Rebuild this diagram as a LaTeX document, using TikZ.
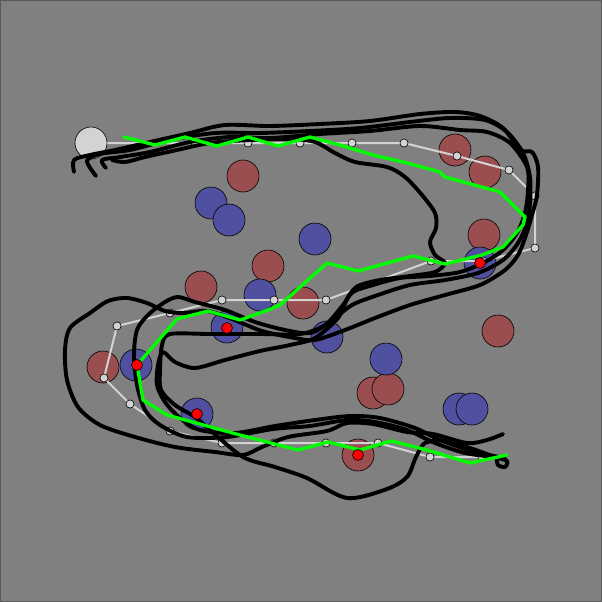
\documentclass[tikz,border=0pt]{standalone}
\definecolor{bg}{HTML}{808080}
\definecolor{obsred}{HTML}{9A4E50}
\definecolor{obsblue}{HTML}{5050A0}
\definecolor{wpgray}{HTML}{D3D3D3}
\definecolor{grn}{HTML}{00FF00}
\tikzset{
  obs/.style={circle,minimum size=32pt,inner sep=0pt,draw=black,line width=0.6pt},
  redobs/.style={obs,fill=obsred},
  blueobs/.style={obs,fill=obsblue},
  startc/.style={obs,fill=wpgray},
  wpt/.style={circle,minimum size=8pt,inner sep=0pt,fill=wpgray,draw=black,line width=0.5pt},
  wline/.style={draw=wpgray,line width=2pt},
  traj/.style={draw=black,line width=3.9pt,line cap=round,line join=round},
  gpath/.style={draw=grn,line width=3.3pt,line join=round,line cap=round},
  hit/.style={circle,minimum size=11pt,inner sep=0pt,fill=red,draw=black,line width=0.6pt}
}
\begin{document}
\begin{tikzpicture}[x=1pt,y=-1pt]
\useasboundingbox (0,0) rectangle (602,602);
\fill[bg] (0,0) rectangle (602,602);
\draw[black!65,line width=1pt] (0.5,0.5) rectangle (601.5,601.5);
% obstacles
\node[redobs] (r1) at (243,176) {};
\node[redobs] (r2) at (455,150) {};
\node[redobs] (r3) at (485,172) {};
\node[redobs] (r4) at (484,235) {};
\node[redobs] (r5) at (498,331) {};
\node[redobs] (r6) at (268,266) {};
\node[redobs] (r7) at (201,287) {};
\node[redobs] (r8) at (303,303) {};
\node[redobs] (r9) at (103,367) {};
\node[redobs] (r10) at (358,455) {};
\node[redobs] (r11) at (373,393) {};
\node[redobs] (r12) at (388,389) {};
\node[blueobs] (b1) at (211,203) {};
\node[blueobs] (b2) at (229,220) {};
\node[blueobs] (b3) at (315,239) {};
\node[blueobs] (b4) at (260,295) {};
\node[blueobs] (b5) at (227,327) {};
\node[blueobs] (b6) at (327,337) {};
\node[blueobs] (b7) at (386,359) {};
\node[blueobs] (b8) at (136,365) {};
\node[blueobs] (b9) at (197,414) {};
\node[blueobs] (b10) at (480,263) {};
\node[blueobs] (b11) at (459,409) {};
\node[blueobs] (b12) at (472,409) {};
\node[startc] (s) at (91,143) {};
% planned waypoints
\node[wpt] (w1) at (195,143) {};
\node[wpt] (w2) at (248,143) {};
\node[wpt] (w3) at (300,143) {};
\node[wpt] (w4) at (352,143) {};
\node[wpt] (w5) at (404,143) {};
\node[wpt] (w6) at (457,156) {};
\node[wpt] (w7) at (509,170) {};
\node[wpt] (w8) at (535,196) {};
\node[wpt] (w9) at (535,248) {};
\node[wpt] (w10) at (483,261) {};
\node[wpt] (w11) at (431,261) {};
\node[wpt] (w12) at (326,300) {};
\node[wpt] (w13) at (274,300) {};
\node[wpt] (w14) at (222,300) {};
\node[wpt] (w15) at (170,313) {};
\node[wpt] (w16) at (117,326) {};
\node[wpt] (w17) at (104,378) {};
\node[wpt] (w18) at (130,404) {};
\node[wpt] (w19) at (170,431) {};
\node[wpt] (w20) at (222,443) {};
\node[wpt] (w21) at (274,443) {};
\node[wpt] (w22) at (326,443) {};
\node[wpt] (w23) at (378,443) {};
\node[wpt] (w24) at (430,457) {};
\node[wpt] (w25) at (482,457) {};
\path[wline] (s) -- (w1) -- (w2) -- (w3) -- (w4) -- (w5) -- (w6) -- (w7) -- (w8) -- (w9) -- (w10) -- (w11) -- (w12) -- (w13) -- (w14) -- (w15) -- (w16) -- (w17) -- (w18) -- (w19) -- (w20) -- (w21) -- (w22) -- (w23) -- (w24) -- (w25);
\foreach \n in {1,...,25} {\node[wpt] at (w\n) {};}
% executed trajectories
\draw[traj] plot[smooth,tension=0.5] coordinates {(74,172) (74,160) (90,155) (115,150) (150,142) (190,133) (225,125) (270,126) (320,124) (370,121) (420,114) (455,112) (480,116) (503,128) (520,150) (532,152) (538,167) (537,195) (532,215) (526,235) (518,255) (505,270) (480,285) (445,295) (410,305) (375,318) (345,330) (315,340) (295,338) (262,331) (232,319) (207,311) (183,313) (165,311) (147,303) (127,298) (108,301) (90,313) (70,328) (65,350) (67,380) (78,407) (100,425) (135,437) (175,447) (215,452) (243,455) (262,447) (288,437) (327,431) (347,423) (373,424) (407,432) (433,434) (467,443) (487,440) (503,434)};
\draw[traj] plot[smooth,tension=0.5] coordinates {(96,176) (87,161) (100,154) (130,150) (170,140) (215,133) (260,133) (310,131) (360,128) (410,122) (450,118) (485,120) (507,132) (523,153) (530,177) (530,203) (527,223) (518,243) (503,260) (478,273) (445,280) (410,285) (378,295) (352,305) (330,322) (310,333) (285,330) (255,322) (225,310) (195,302) (178,297) (165,302) (148,315) (137,330) (134,355) (137,385) (145,410) (160,425) (187,437) (227,437) (273,429) (310,426) (347,420) (375,422) (407,430) (435,443) (465,453) (495,457)};
\draw[traj] plot[smooth,tension=0.5] coordinates {(106,168) (102,160) (120,157) (150,152) (190,142) (230,137) (270,138) (320,134) (370,131) (420,126) (460,130) (487,132) (510,143) (527,167) (528,190) (525,213) (517,233) (503,250) (485,262) (460,272) (430,276) (400,278) (373,285) (353,292) (343,305) (325,325) (300,334) (260,334) (210,334) (170,334) (162,345) (160,370) (161,390) (175,405) (195,417) (210,430) (243,457) (275,467) (307,478) (347,498) (387,489) (407,477) (416,457) (425,443) (445,441) (470,448) (495,457) (507,461) (505,467) (498,465) (497,459)};
\draw[traj] plot[smooth,tension=0.5] coordinates {(112,160) (125,162) (145,157) (177,150) (210,143) (250,140) (290,139) (315,142) (335,153) (355,162) (387,167) (405,177) (422,195) (435,213) (436,228) (430,242) (435,255) (445,263) (435,272) (410,276) (380,280) (358,286) (348,297) (338,318) (315,338) (290,345) (260,351) (225,360) (195,368) (175,362) (163,352) (158,365) (157,385) (165,402) (180,418) (200,430) (235,433) (275,426) (315,420) (350,416) (380,418) (415,428) (440,440) (475,452) (505,458)};
% followed path
\draw[gpath] (124,137) -- (155,145) -- (185,137) -- (217,146) -- (248,137) -- (278,146) -- (310,137) -- (340,145) -- (373,155) -- (407,163) -- (440,172) -- (445,177) -- (500,192) -- (525,217) -- (523,225) -- (503,247) -- (482,255) -- (445,264) -- (413,256) -- (358,271) -- (327,263) -- (280,305) -- (268,310) -- (240,320) -- (208,311) -- (177,319) -- (137,365) -- (143,400) -- (167,415) -- (240,435) -- (298,450) -- (328,442) -- (360,450) -- (391,441) -- (427,450) -- (470,463) -- (507,455);
% contact points
\node[hit] (h1) at (480,263) {};
\node[hit] (h2) at (227,328) {};
\node[hit] (h3) at (137,365) {};
\node[hit] (h4) at (197,414) {};
\node[hit] (h5) at (358,455) {};
\end{tikzpicture}
\end{document}
